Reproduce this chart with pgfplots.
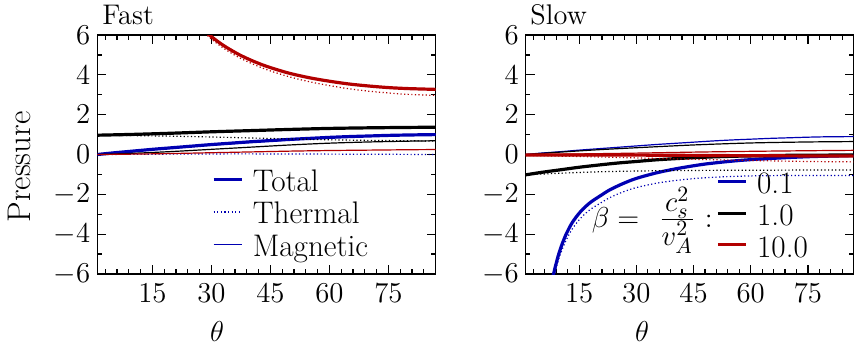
\documentclass[border=0pt]{standalone}
\usepackage{pgfplots}
\pgfplotsset{compat=1.18}
\definecolor{cblue}{rgb}{0,0,0.7}
\definecolor{cred}{rgb}{0.7,0,0}
\pgfplotsset{
  panel/.style={
    scale only axis, height=119.5pt, anchor=south west,
    xmin=1, xmax=87, ymin=-6, ymax=6,
    xtick={15,30,45,60,75}, ytick={-6,-4,-2,0,2,4,6},
    minor xtick={3,6,...,87}, minor ytick={-5,-3,...,5},
    tick align=inside, tick pos=both,
    major tick length=4.5pt, minor tick length=2.3pt,
    every tick/.style={black, line width=0.6pt},
    axis line style={line width=0.7pt},
    tick label style={font=\fontsize{14.5}{17}\selectfont},
    xticklabel style={yshift=-1.5pt},
    legend cell align=left,
  },
  tot/.style={line width=1.6pt},
  the/.style={line width=0.6pt, dash pattern=on 0.6pt off 1.2pt},
  mag/.style={line width=0.6pt},
}
\begin{document}
\begin{tikzpicture}
\useasboundingbox (0pt,0pt) rectangle (427pt,175pt);
% ---------------- Fast ----------------
\begin{axis}[panel, at={(48.65pt,38pt)}, width=169.2pt,
  legend image code/.code={\draw[#1] (0pt,3pt) -- (14pt,3pt);},
  legend style={at={(rel axis cs:0.338,0.441)}, anchor=north west, draw=none, fill=none,
    font=\fontsize{15.6}{18}\selectfont, inner sep=0pt, row sep=0pt, column sep=4.8pt,
    nodes={inner sep=0pt, text height=11pt, text depth=5.3pt}},
]
% beta = 0.1
\addplot[cblue, tot, smooth] coordinates {(1,0.0) (5,0.08) (10,0.17) (15,0.26) (20,0.34) (25,0.42) (30,0.5) (35,0.57) (40,0.64) (45,0.7) (50,0.76) (55,0.81) (60,0.86) (65,0.9) (70,0.93) (75,0.96) (80,0.98) (87,1.0)};
\addlegendentry{Total}
\addplot[cblue, the, smooth] coordinates {(1,0) (10,0.01) (20,0.02) (30,0.03) (45,0.03) (60,0.02) (75,0.01) (87,0.0)};
\addlegendentry{Thermal}
\addplot[cblue, mag, smooth] coordinates {(1,0) (5,0.075) (10,0.16) (15,0.245) (20,0.32) (25,0.395) (30,0.47) (35,0.54) (40,0.61) (45,0.67) (50,0.73) (55,0.785) (60,0.84) (65,0.885) (70,0.92) (75,0.95) (80,0.975) (87,1.0)};
\addlegendentry{Magnetic}
% beta = 1
\addplot[black, tot, smooth, forget plot] coordinates {(1,0.97) (10,1.01) (20,1.07) (30,1.14) (40,1.2) (50,1.26) (60,1.31) (70,1.34) (80,1.36) (87,1.37)};
\addplot[black, the, smooth, forget plot] coordinates {(1,0.97) (10,0.95) (20,0.92) (30,0.88) (40,0.83) (50,0.78) (60,0.74) (70,0.71) (80,0.69) (87,0.68)};
\addplot[black, mag, smooth, forget plot] coordinates {(1,0) (10,0.06) (20,0.15) (30,0.26) (40,0.37) (50,0.48) (60,0.57) (70,0.63) (80,0.67) (87,0.69)};
% beta = 10
\addplot[cred, tot, smooth, forget plot] coordinates {(24,7.13) (27,6.46) (29.5,6.0) (32,5.62) (34,5.36) (37,5.02) (40,4.74) (43,4.5) (46,4.3) (50,4.07) (55,3.85) (60,3.68) (65,3.54) (70,3.44) (75,3.36) (80,3.31) (87,3.27)};
\addplot[cred, the, smooth, forget plot] coordinates {(24,7.03) (27,6.36) (29.5,5.88) (32,5.49) (34,5.22) (37,4.87) (40,4.59) (43,4.34) (46,4.13) (50,3.89) (55,3.65) (60,3.46) (65,3.3) (70,3.18) (75,3.09) (80,3.02) (87,2.97)};
\addplot[cred, mag, smooth, forget plot] coordinates {(1,0) (10,0.02) (20,0.05) (30,0.09) (40,0.13) (50,0.17) (60,0.2) (70,0.22) (80,0.24) (87,0.25)};
\end{axis}
% ---------------- Slow ----------------
\begin{axis}[panel, at={(262.85pt,38pt)}, width=164pt,
  legend image code/.code={\draw[#1] (0pt,3pt) -- (14pt,3pt);},
  legend style={at={(rel axis cs:0.58,0.43)}, anchor=north west, draw=none, fill=none,
    font=\fontsize{15.6}{18}\selectfont, inner sep=0pt, row sep=0pt, column sep=4.8pt,
    nodes={inner sep=0pt, text height=11pt, text depth=4.85pt}},
]
% beta = 0.1
\addplot[cblue, tot, smooth] coordinates {(7.5,-6.75) (8.3,-6.0) (9.5,-5.1) (10.5,-4.52) (11.6,-4.0) (13,-3.48) (14.5,-3.07) (16,-2.74) (18,-2.4) (20.5,-2.08) (23,-1.78) (26.5,-1.46) (30,-1.2) (35.3,-0.92) (40,-0.73) (43.9,-0.6) (48,-0.48) (52.6,-0.38) (57,-0.3) (61.3,-0.24) (66,-0.19) (70,-0.15) (75,-0.11) (78.6,-0.09) (83,-0.07) (87,-0.05)};
\addlegendentry{0.1}
\addplot[cblue, the, smooth, forget plot] coordinates {(7.5,-7.0) (8.3,-6.2) (9.5,-5.35) (10.5,-4.8) (11.6,-4.3) (13,-3.8) (14.5,-3.4) (16,-3.08) (18,-2.75) (20.5,-2.45) (23,-2.17) (26.5,-1.88) (30,-1.66) (35.3,-1.44) (40,-1.31) (43.9,-1.23) (48,-1.17) (52.6,-1.12) (57,-1.09) (61.3,-1.07) (66,-1.06) (70,-1.05) (75,-1.05) (80,-1.05) (87,-1.05)};
\addplot[cblue, mag, smooth, forget plot] coordinates {(1,0) (5,0.07) (10,0.14) (15,0.22) (20,0.29) (25,0.36) (30,0.43) (35,0.5) (40,0.56) (45,0.62) (50,0.68) (55,0.73) (60,0.77) (65,0.81) (70,0.84) (75,0.87) (80,0.89) (87,0.9)};
% beta = 1
\addplot[black, tot, smooth] coordinates {(1,-1.02) (5,-0.9) (10,-0.77) (15,-0.64) (20,-0.53) (25,-0.43) (30,-0.35) (35,-0.27) (40,-0.21) (45,-0.16) (50,-0.12) (55,-0.09) (60,-0.07) (70,-0.04) (80,-0.03) (87,-0.02)};
\addlegendentry{1.0}
\addplot[black, the, smooth, forget plot] coordinates {(1,-1.02) (10,-0.94) (20,-0.87) (30,-0.83) (45,-0.8) (60,-0.79) (75,-0.78) (87,-0.78)};
\addplot[black, mag, smooth, forget plot] coordinates {(1,0) (10,0.12) (20,0.24) (30,0.34) (45,0.48) (60,0.58) (75,0.63) (87,0.65)};
% beta = 10
\addplot[cred, tot, smooth] coordinates {(1,-0.02) (30,-0.03) (60,-0.06) (87,-0.08)};
\addlegendentry{10.0}
\addplot[cred, the, smooth, forget plot] coordinates {(1,-0.05) (15,-0.1) (30,-0.17) (45,-0.24) (60,-0.3) (75,-0.35) (87,-0.37)};
\addplot[cred, mag, smooth, forget plot] coordinates {(1,0) (15,0.03) (30,0.07) (45,0.12) (60,0.16) (75,0.19) (87,0.21)};
\end{axis}
% ---------------- texts ----------------
\node[anchor=base west, inner sep=0pt, font=\fontsize{14.2}{17}\selectfont] at (51pt,163pt) {Fast};
\node[anchor=base west, inner sep=0pt, font=\fontsize{14.2}{17}\selectfont] at (265pt,163pt) {Slow};
\node[inner sep=0pt, font=\fontsize{14.5}{17}\selectfont] at (108.5pt,9.2pt) {$\theta$};
\node[inner sep=0pt, font=\fontsize{14.5}{17}\selectfont] at (321pt,9.2pt) {$\theta$};
\node[rotate=90, inner sep=0pt, font=\fontsize{16.4}{19}\selectfont] at (9.75pt,91.5pt) {Pressure};
\node[anchor=base east, inner sep=0pt, font=\fontsize{15.6}{18}\selectfont] at (356.5pt,61.5pt) {$\beta = \hskip 6pt\frac{\textstyle c_s^2}{\textstyle v_A^2}\hskip 4.8pt\mathord{:}$};
\end{tikzpicture}
\end{document}
